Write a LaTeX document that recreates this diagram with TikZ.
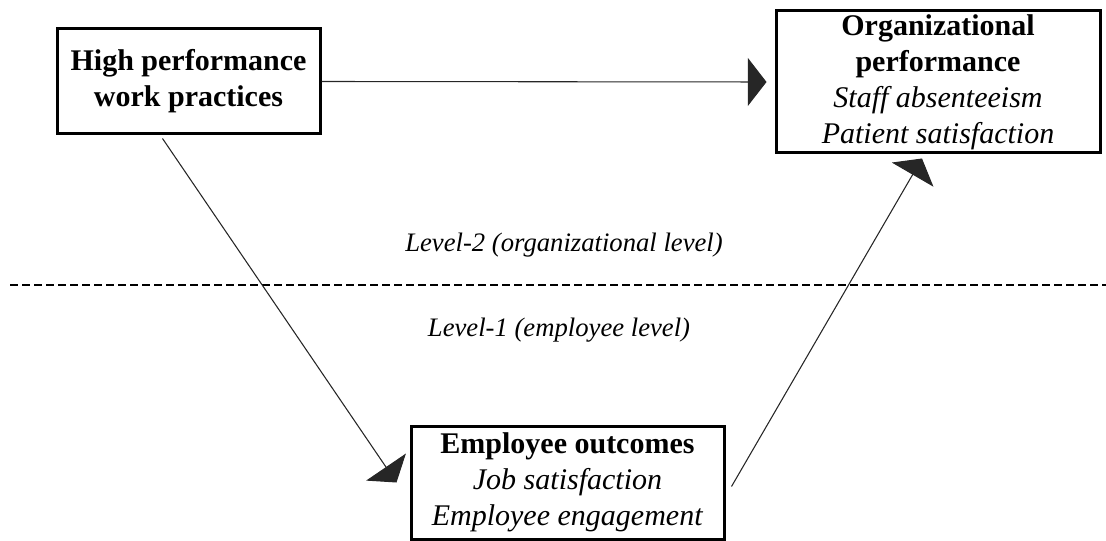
\documentclass[tikz,border=0pt]{standalone}
\usepackage{fontspec}
\setmainfont{Liberation Serif}
\usetikzlibrary{arrows.meta,calc}

\tikzset{
  box/.style={draw, line width=2.25pt, align=center, inner sep=0pt,
    font=\fontsize{22.5pt}{27pt}\selectfont},
  arr/.style={draw=black!85, line width=0.8pt, -{Triangle[length=14pt,width=36pt]}},
  lvl/.style={font=\fontsize{20pt}{24pt}\selectfont\itshape},
  levelline/.style={line width=0.8pt, dash pattern=on 6pt off 3pt}
}

\begin{document}
\begin{tikzpicture}[x=0.75pt,y=-0.75pt]
  \useasboundingbox (0,0) rectangle (1106,541);

  \node (HPWP) [box, minimum width=197.25pt, minimum height=78.75pt] at (188.5,81.5)
    {\textbf{High performance}\\\textbf{work practices}};
  \node (ORGP) [box, minimum width=243pt, minimum height=106.5pt] at (938,82)
    {\textbf{Organizational}\\\textbf{performance}\\\textit{Staff absenteeism}\\\textit{Patient satisfaction}};
  \node (EMPO) [box, minimum width=234.75pt, minimum height=84.75pt] at (567.5,482.5)
    {\textbf{Employee outcomes}\\\textit{Job satisfaction}\\\textit{Employee engagement}};

  \node (LVL2) [lvl] at (564,245) {Level-2 (organizational level)};
  \node (LVL1) [lvl] at (559,330) {Level-1 (employee level)};
  \draw[levelline] (10,285) -- (1106,285);

  \draw[arr] (HPWP.east) -- ($(ORGP.west)+(-8,0)$);
  \draw[arr] ($(HPWP.south)+(-26,3)$) -- ($(EMPO.west)+(-13,0)$);
  \draw[arr] ($(EMPO.east)+(6,4)$) -- ($(ORGP.south)+(-16,4)$);
\end{tikzpicture}
\end{document}
